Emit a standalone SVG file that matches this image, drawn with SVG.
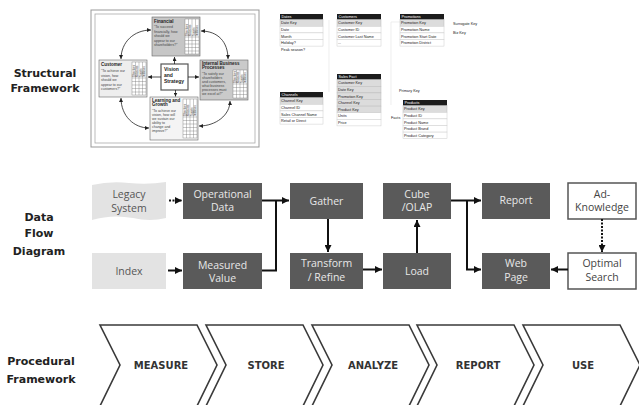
<svg xmlns="http://www.w3.org/2000/svg" width="639" height="405" viewBox="0 0 639 405">
<defs>
<marker id="ah" markerUnits="userSpaceOnUse" markerWidth="7" markerHeight="7" refX="7" refY="3.5" orient="auto"><path d="M0,0 L7,3.5 L0,7 Z" fill="#111"/></marker>
<marker id="sah" markerUnits="userSpaceOnUse" markerWidth="4" markerHeight="4" refX="4" refY="2" orient="auto"><path d="M0,0 L4,2 L0,4 Z" fill="#222"/></marker>
<marker id="sas" markerUnits="userSpaceOnUse" markerWidth="4" markerHeight="4" refX="0" refY="2" orient="auto"><path d="M4,0 L0,2 L4,4 Z" fill="#222"/></marker>
</defs>
<style>
.lbl{font-family:"DejaVu Sans",sans-serif;font-weight:bold;font-size:11px;fill:#222;text-anchor:middle}
.dark{fill:#5a5a5a}
.light{fill:#e3e3e3}
.wbox{fill:#fff;stroke:#555;stroke-width:1.5}
.tw{font-family:"Open Sans","DejaVu Sans",sans-serif;font-size:10.5px;fill:#e8e8e8;text-anchor:middle}
.tg{font-family:"Open Sans","DejaVu Sans",sans-serif;font-size:10.5px;fill:#555;text-anchor:middle}
.con{fill:none;stroke:#111;stroke-width:2}
.chev{fill:#fff;stroke:#3a3a3a;stroke-width:1.6}
.ct{font-family:"DejaVu Sans",sans-serif;font-weight:bold;font-size:10px;fill:#333;text-anchor:middle}
.sc{font-family:"Liberation Sans",sans-serif;font-size:3.5px;fill:#444}
.sct{font-family:"Liberation Sans",sans-serif;font-size:4.5px;font-weight:bold;fill:#222}
.grid{fill:#fff;stroke:#777;stroke-width:0.4}
.arc{fill:none;stroke:#222;stroke-width:0.8}
.hdr{fill:#1c1c1c}
.row{fill:#fff;stroke:#ccc;stroke-width:0.5}
.key{fill:#dcdcdc;stroke:#bbb;stroke-width:0.5}
.tt{font-family:"Liberation Sans",sans-serif;font-size:3.8px;fill:#222}
.th{font-family:"Liberation Sans",sans-serif;font-size:3.8px;fill:#fff}
.vt{font-family:"Liberation Sans",sans-serif;font-size:2.6px;fill:#333}
</style>

<!-- Left labels -->
<g id="label-structural"><text class="lbl" x="45" y="77">Structural</text><text class="lbl" x="45" y="92">Framework</text></g>
<g id="label-dataflow"><text class="lbl" x="39" y="221">Data</text><text class="lbl" x="39" y="237">Flow</text><text class="lbl" x="39" y="255">Diagram</text></g>
<g id="label-procedural"><text class="lbl" x="41" y="365">Procedural</text><text class="lbl" x="41" y="383">Framework</text></g>

<!-- Balanced scorecard -->
<g id="scorecard">
<rect x="91" y="10" width="168" height="137" fill="#fff" stroke="#999" stroke-width="1"/>
<rect x="95" y="14" width="160" height="129" fill="#fff" stroke="#aaa" stroke-width="0.8"/>
<g id="financial">
<rect x="152" y="17" width="48" height="39" fill="#c6c6c6" stroke="#666" stroke-width="0.6"/>
<text class="sct" x="154" y="22.5">Financial</text>
<text class="sc" x="154" y="28">"To succeed</text><text class="sc" x="154" y="32.5">financially, how</text><text class="sc" x="154" y="37">should we</text><text class="sc" x="154" y="41.5">appear to our</text><text class="sc" x="154" y="46">shareholders?"</text>
<rect class="grid" x="185" y="19" width="14" height="35"/>
<path d="M188.5,19V54M192,19V54M195.5,19V54M185,37H199M185,40.5H199M185,44H199M185,47.5H199M185,51H199" stroke="#777" stroke-width="0.4"/>
<text class="vt" transform="translate(187.7,36) rotate(-90)">Objectives</text><text class="vt" transform="translate(191.2,36) rotate(-90)">Measures</text><text class="vt" transform="translate(194.7,36) rotate(-90)">Targets</text><text class="vt" transform="translate(198.2,36) rotate(-90)">Initiatives</text>
</g>
<g id="customer">
<rect x="99" y="60" width="48" height="37" fill="#eeeeee" stroke="#666" stroke-width="0.6"/>
<text class="sct" x="101" y="66">Customer</text>
<text class="sc" x="101" y="72">"To achieve our</text><text class="sc" x="101" y="76.5">vision, how</text><text class="sc" x="101" y="81">should we</text><text class="sc" x="101" y="85.5">appear to our</text><text class="sc" x="101" y="90">customers?"</text>
<rect class="grid" x="132" y="62" width="14" height="33"/>
<path d="M135.5,62V95M139,62V95M142.5,62V95M132,78H146M132,81.5H146M132,85H146M132,88.5H146M132,92H146" stroke="#777" stroke-width="0.4"/>
<text class="vt" transform="translate(134.7,77) rotate(-90)">Objectives</text><text class="vt" transform="translate(138.2,77) rotate(-90)">Measures</text><text class="vt" transform="translate(141.7,77) rotate(-90)">Targets</text><text class="vt" transform="translate(145.2,77) rotate(-90)">Initiatives</text>
</g>
<g id="internal">
<rect x="200" y="60" width="48" height="40" fill="#cacaca" stroke="#666" stroke-width="0.6"/>
<text class="sct" x="202" y="64.5">Internal Business</text><text class="sct" x="202" y="69">Processes</text>
<text class="sc" x="202" y="75">"To satisfy our</text><text class="sc" x="202" y="79">shareholders</text><text class="sc" x="202" y="83">and customers,</text><text class="sc" x="202" y="87">what business</text><text class="sc" x="202" y="91">processes must</text><text class="sc" x="202" y="95">we excel at?"</text>
<rect class="grid" x="233" y="70" width="14" height="28"/>
<path d="M236.5,70V98M240,70V98M243.5,70V98M233,84H247M233,87.5H247M233,91H247M233,94.5H247" stroke="#777" stroke-width="0.4"/>
<text class="vt" transform="translate(235.7,83) rotate(-90)">Objectives</text><text class="vt" transform="translate(239.2,83) rotate(-90)">Measures</text><text class="vt" transform="translate(242.7,83) rotate(-90)">Targets</text><text class="vt" transform="translate(246.2,83) rotate(-90)">Initiatives</text>
</g>
<g id="learning">
<rect x="150" y="97" width="48" height="43" fill="#f4f4f4" stroke="#666" stroke-width="0.6"/>
<text class="sct" x="152" y="101.5">Learning and</text><text class="sct" x="152" y="106">Growth</text>
<text class="sc" x="152" y="112">"To achieve our</text><text class="sc" x="152" y="116">vision, how will</text><text class="sc" x="152" y="120">we sustain our</text><text class="sc" x="152" y="124">ability to</text><text class="sc" x="152" y="128">change and</text><text class="sc" x="152" y="132">improve?"</text>
<rect class="grid" x="183" y="99" width="14" height="39"/>
<path d="M186.5,99V138M190,99V138M193.5,99V138M183,117H197M183,120.5H197M183,124H197M183,127.5H197M183,131H197M183,134.5H197" stroke="#777" stroke-width="0.4"/>
<text class="vt" transform="translate(185.7,116) rotate(-90)">Objectives</text><text class="vt" transform="translate(189.2,116) rotate(-90)">Measures</text><text class="vt" transform="translate(192.7,116) rotate(-90)">Targets</text><text class="vt" transform="translate(196.2,116) rotate(-90)">Initiatives</text>
</g>
<g id="vision">
<rect x="161" y="64" width="27" height="26" fill="#fff" stroke="#555" stroke-width="1.2"/>
<text class="sct" x="164" y="71" style="font-size:5px">Vision</text><text class="sct" x="164" y="77" style="font-size:5px">and</text><text class="sct" x="164" y="83" style="font-size:5px">Strategy</text>
</g>
<g id="scorecard-arrows">
<path class="arc" d="M121,59 C121,42 134,30 151,30" marker-start="url(#sas)" marker-end="url(#sah)"/>
<path class="arc" d="M201,31 C218,31 228,42 228,59" marker-start="url(#sas)" marker-end="url(#sah)"/>
<path class="arc" d="M230,101 C230,115 216,126 199,126" marker-start="url(#sas)" marker-end="url(#sah)"/>
<path class="arc" d="M149,128 C134,128 121,116 121,98" marker-start="url(#sas)" marker-end="url(#sah)"/>
<path class="arc" d="M174.5,64 V57" marker-end="url(#sah)"/>
<path class="arc" d="M161,77 H148" marker-end="url(#sah)"/>
<path class="arc" d="M188,77 H199" marker-end="url(#sah)"/>
<path class="arc" d="M175.5,90 V96.5" marker-end="url(#sah)"/>
</g>
</g>

<!-- Star schema -->
<g id="star-lines" stroke="#e2e2e2" stroke-width="0.6" fill="none">
<path d="M329,20 V92"/><path d="M391,22 V105"/><path d="M391,22 H400"/>
</g>
<g id="t-dates">
<rect class="hdr" x="280" y="14" width="43" height="5.7"/><text class="th" x="281.5" y="18.3">Dates</text>
<rect class="key" x="280" y="19.7" width="43" height="6.6"/><text class="tt" x="281" y="24.4">Date Key</text>
<rect class="row" x="280" y="26.3" width="43" height="6.6"/><text class="tt" x="281" y="31">Date</text>
<rect class="row" x="280" y="32.9" width="43" height="6.6"/><text class="tt" x="281" y="37.6">Month</text>
<rect class="row" x="280" y="39.5" width="43" height="6.6"/><text class="tt" x="281" y="44.2">Holiday?</text>
<text class="tt" x="281" y="50.8">Peak season?</text>
</g>
<g id="t-customers">
<rect class="hdr" x="337" y="14" width="44" height="5.7"/><text class="th" x="338.5" y="18.3">Customers</text>
<rect class="key" x="337" y="19.7" width="44" height="6.6"/><text class="tt" x="338" y="24.4">Customer Key</text>
<rect class="row" x="337" y="26.3" width="44" height="6.6"/><text class="tt" x="338" y="31">Customer ID</text>
<rect class="row" x="337" y="32.9" width="44" height="6.6"/><text class="tt" x="338" y="37.6">Customer Last Name</text>
<rect class="row" x="337" y="39.5" width="44" height="6.6"/><text class="tt" x="338" y="44.2">...</text>
</g>
<g id="t-promotions">
<rect class="hdr" x="400" y="14" width="44" height="5.7"/><text class="th" x="401.5" y="18.3">Promotions</text>
<rect class="key" x="400" y="19.7" width="44" height="6.6"/><text class="tt" x="401" y="24.4">Promotion Key</text>
<rect class="row" x="400" y="26.3" width="44" height="6.6"/><text class="tt" x="401" y="31">Promotion Name</text>
<rect class="row" x="400" y="32.9" width="44" height="6.6"/><text class="tt" x="401" y="37.6">Promotion Start Date</text>
<rect class="row" x="400" y="39.5" width="44" height="6.6"/><text class="tt" x="401" y="44.2">Promotion District</text>
</g>
<g id="t-salesfact">
<rect class="hdr" x="337" y="74" width="44" height="5.7"/><text class="th" x="338.5" y="78.3">Sales Fact</text>
<rect class="key" x="337" y="79.7" width="44" height="6.6"/><text class="tt" x="338" y="84.4">Customer Key</text>
<rect class="key" x="337" y="86.3" width="44" height="6.6"/><text class="tt" x="338" y="91">Date Key</text>
<rect class="key" x="337" y="92.9" width="44" height="6.6"/><text class="tt" x="338" y="97.6">Promotion Key</text>
<rect class="key" x="337" y="99.5" width="44" height="6.6"/><text class="tt" x="338" y="104.2">Channel Key</text>
<rect class="key" x="337" y="106.1" width="44" height="6.6"/><text class="tt" x="338" y="110.8">Product Key</text>
<rect class="row" x="337" y="112.7" width="44" height="6.6"/><text class="tt" x="338" y="117.4">Units</text>
<rect class="row" x="337" y="119.3" width="44" height="6.6"/><text class="tt" x="338" y="124">Price</text>
</g>
<g id="t-channels">
<rect class="hdr" x="280" y="92" width="43" height="5.7"/><text class="th" x="281.5" y="96.3">Channels</text>
<rect class="key" x="280" y="97.7" width="43" height="6.6"/><text class="tt" x="281" y="102.4">Channel Key</text>
<rect class="row" x="280" y="104.3" width="43" height="6.6"/><text class="tt" x="281" y="109">Channel ID</text>
<rect class="row" x="280" y="110.9" width="43" height="6.6"/><text class="tt" x="281" y="115.6">Sales Channel Name</text>
<rect class="row" x="280" y="117.5" width="43" height="6.6"/><text class="tt" x="281" y="122.2">Retail or Direct</text>
</g>
<g id="t-products">
<rect class="hdr" x="403" y="100" width="44" height="5.7"/><text class="th" x="404.5" y="104.3">Products</text>
<rect class="key" x="403" y="105.7" width="44" height="6.6"/><text class="tt" x="404" y="110.4">Product Key</text>
<rect class="row" x="403" y="112.3" width="44" height="6.6"/><text class="tt" x="404" y="117">Product ID</text>
<rect class="row" x="403" y="118.9" width="44" height="6.6"/><text class="tt" x="404" y="123.6">Product Name</text>
<rect class="row" x="403" y="125.5" width="44" height="6.6"/><text class="tt" x="404" y="130.2">Product Brand</text>
<rect class="row" x="403" y="132.1" width="44" height="6.6"/><text class="tt" x="404" y="136.8">Product Category</text>
</g>
<g id="star-notes">
<text class="tt" x="453" y="25">Surrogate Key</text>
<text class="tt" x="453" y="34">Biz Key</text>
<text class="tt" x="399" y="92">Primary Key</text>
<text class="tt" x="391" y="119">Facts</text>
</g>

<!-- Data flow nodes -->
<g id="legacy"><path class="light" d="M92,185 Q110,181 129,183 Q148,185 166,182 V218 Q150,222 133,218 Q112,214 92,220 Z"/><text class="tg" x="129" y="198">Legacy</text><text class="tg" x="129" y="212">System</text></g>
<g id="index"><rect class="light" x="92" y="253" width="74" height="36"/><text class="tg" x="129" y="275">Index</text></g>
<g id="operational"><rect class="dark" x="183" y="183" width="79" height="36"/><text class="tw" x="222.5" y="198">Operational</text><text class="tw" x="222.5" y="211">Data</text></g>
<g id="measured"><rect class="dark" x="183" y="253" width="79" height="36"/><text class="tw" x="222.5" y="269">Measured</text><text class="tw" x="222.5" y="282">Value</text></g>
<g id="gather"><rect class="dark" x="290" y="183" width="73" height="36"/><text class="tw" x="326.5" y="205">Gather</text></g>
<g id="transform"><rect class="dark" x="290" y="253" width="73" height="36"/><text class="tw" x="326.5" y="267">Transform</text><text class="tw" x="326.5" y="281">/ Refine</text></g>
<g id="cube"><rect class="dark" x="383" y="183" width="68" height="36"/><text class="tw" x="417" y="198">Cube</text><text class="tw" x="417" y="211">/OLAP</text></g>
<g id="load"><rect class="dark" x="383" y="253" width="68" height="36"/><text class="tw" x="417" y="275">Load</text></g>
<g id="report"><rect class="dark" x="482" y="183" width="68" height="36"/><text class="tw" x="516" y="204">Report</text></g>
<g id="webpage"><rect class="dark" x="482" y="253" width="68" height="36"/><text class="tw" x="516" y="267">Web</text><text class="tw" x="516" y="281">Page</text></g>
<g id="adknowledge"><rect class="wbox" x="568" y="183" width="68" height="36"/><text class="tg" x="602" y="198" style="fill:#444">Ad-</text><text class="tg" x="602" y="211" style="fill:#444">Knowledge</text></g>
<g id="optimal"><rect class="wbox" x="568" y="253" width="68" height="36"/><text class="tg" x="602" y="267" style="fill:#444">Optimal</text><text class="tg" x="602" y="281" style="fill:#444">Search</text></g>

<!-- Connectors -->
<g id="connectors">
<path class="con" d="M169,200.5 H182" stroke-dasharray="2,1.5" marker-end="url(#ah)"/>
<path class="con" d="M168,270.5 H182" marker-end="url(#ah)"/>
<path class="con" d="M262,200.5 H289" marker-end="url(#ah)"/>
<path class="con" d="M262,270.5 H276 V200.5"/>
<path class="con" d="M328,219 V252" marker-end="url(#ah)"/>
<path class="con" d="M363,269.5 H382" marker-end="url(#ah)"/>
<path class="con" d="M417,253 V220" marker-end="url(#ah)"/>
<path class="con" d="M451,200.5 H481" marker-end="url(#ah)"/>
<path class="con" d="M467,200.5 V269.5 H481" marker-end="url(#ah)"/>
<path class="con" d="M602,219 V252" stroke-dasharray="2,1.5" marker-end="url(#ah)"/>
<path class="con" d="M568,269.5 H551" marker-end="url(#ah)"/>
</g>

<!-- Procedural chevrons -->
<g id="measure"><path class="chev" d="M100,325 H197 L217,365 L197,406 H100 L120,365 Z"/><text class="ct" x="161" y="369">MEASURE</text></g>
<g id="store"><path class="chev" d="M206,325 H303 L323,365 L303,406 H206 L226,365 Z"/><text class="ct" x="266" y="369">STORE</text></g>
<g id="analyze"><path class="chev" d="M312,325 H409 L429,365 L409,406 H312 L332,365 Z"/><text class="ct" x="373" y="369">ANALYZE</text></g>
<g id="report-step"><path class="chev" d="M417,325 H514 L534,365 L514,406 H417 L437,365 Z"/><text class="ct" x="478" y="369">REPORT</text></g>
<g id="use"><path class="chev" d="M523,325 H620 L640,365 L620,406 H523 L543,365 Z"/><text class="ct" x="583" y="369">USE</text></g>
</svg>
